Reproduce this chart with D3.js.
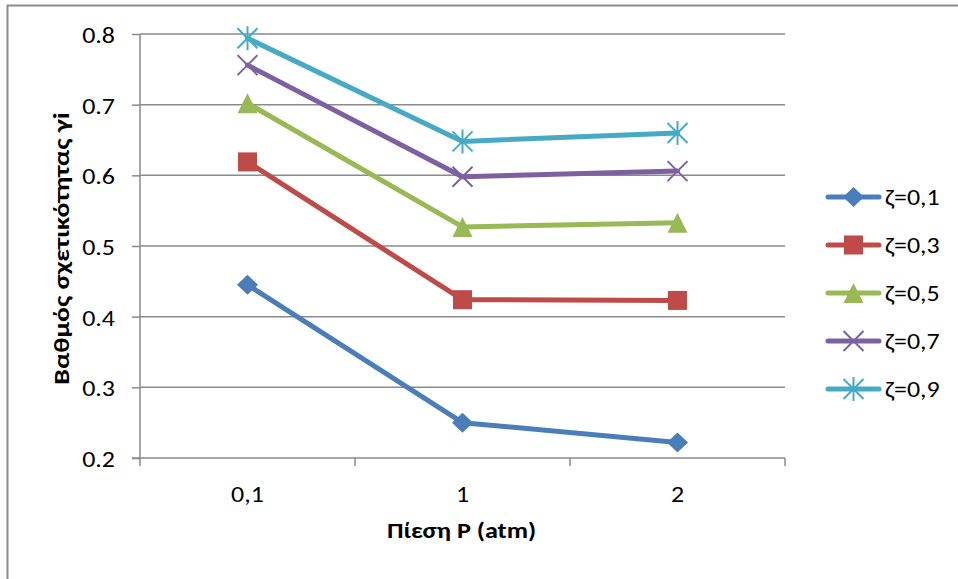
<!DOCTYPE html>
<html><head><meta charset="utf-8">
<script src="https://cdn.jsdelivr.net/npm/d3@7"></script>
<style>body{margin:0;background:#fff}svg{display:block}text{font-family:Carlito,Lato,"Open Sans",sans-serif}</style>
</head><body><svg id="c" width="958" height="579"></svg>
<script>
const categories = ["0,1", "1", "2"];
const seriesNames = ["ζ=0,1", "ζ=0,3", "ζ=0,5", "ζ=0,7", "ζ=0,9"];
const s01 = [0.445, 0.250, 0.222];
const s03 = [0.619, 0.424, 0.423];
const s05 = [0.702, 0.527, 0.533];
const s07 = [0.756, 0.598, 0.606];
const s09 = [0.794, 0.648, 0.660];
const yTicks = [0.2, 0.3, 0.4, 0.5, 0.6, 0.7, 0.8];
const colors = ["#4A7EBB", "#BE4B48", "#98B954", "#7D60A0", "#46AAC5"];
const markers = ["diamond", "square", "triangle", "x", "star"];
const seriesValues = [s01, s03, s05, s07, s09];

const SX = 1.18, FS = 22, FF = "Carlito,Lato,sans-serif";
const svg = d3.select("#c");
const L = 140, R = 785, T = 34, B = 458;
svg.append("path").attr("d", "M7.5,579 V5.5 H958").attr("fill","none").attr("stroke","#8c8c8c").attr("stroke-width",2);

const x = d3.scaleBand().domain(categories).range([L, R]);
const y = d3.scaleLinear().domain([0.2, 0.8]).range([B, T]);

svg.append("g").selectAll("line").data(yTicks.slice(1)).join("line")
  .attr("x1", L).attr("x2", R).attr("y1", d => y(d)).attr("y2", d => y(d))
  .attr("stroke", "#8a8a8a").attr("stroke-width", 1.5);

const ya = svg.append("g").attr("transform", `translate(${L},0)`)
  .call(d3.axisLeft(y).tickValues(yTicks).tickFormat(d3.format(".1f")).tickSize(8));
ya.select(".domain").attr("stroke", "#8a8a8a").attr("stroke-width", 1.5).attr("d", `M0,${T}V${B}`);
ya.selectAll(".tick line").attr("stroke", "#8a8a8a").attr("stroke-width", 1.5);
ya.selectAll("text").attr("font-size", FS).attr("fill", "#000").attr("font-family", FF)
  .attr("x", -25 / SX).attr("dy", null).attr("y", 8.5).attr("transform", `scale(${SX},1)`);

const xa = svg.append("g").attr("transform", `translate(0,${B})`)
  .call(d3.axisBottom(x).tickSize(0));
xa.select(".domain").remove();
xa.selectAll("text").attr("font-size", FS).attr("fill", "#000").attr("font-family", FF)
  .attr("dy", null).attr("y", 44).attr("transform", `scale(${SX},1)`);
const bounds = [L].concat(categories.map(c => x(c) + x.bandwidth()));
svg.append("line").attr("x1", L - 8).attr("x2", R).attr("y1", B).attr("y2", B).attr("stroke", "#8a8a8a").attr("stroke-width", 1.5);
svg.append("g").selectAll("line").data(bounds).join("line")
  .attr("x1", d => d).attr("x2", d => d).attr("y1", B).attr("y2", B + 8)
  .attr("stroke", "#8a8a8a").attr("stroke-width", 1.5);

svg.append("text").attr("transform", "translate(461.5,537.5) scale(1.19,1)").attr("text-anchor", "middle")
  .attr("font-size", 22).attr("font-weight", "bold").text("Πίεση P (atm)");
svg.append("text").attr("transform", "translate(68.5,248.5) rotate(-90) scale(1.21,1)").attr("text-anchor", "middle")
  .attr("font-size", 23).attr("font-weight", "bold").text("Βαθμός σχετικότητας γi");

function drawMarker(g, type, cx, cy, color) {
  if (type === "diamond") {
    g.append("path").attr("d", `M${cx},${cy-10}L${cx+10.5},${cy}L${cx},${cy+10}L${cx-10.5},${cy}Z`).attr("fill", color);
  } else if (type === "square") {
    g.append("rect").attr("x", cx-9.5).attr("y", cy-9.5).attr("width", 19).attr("height", 19).attr("fill", color);
  } else if (type === "triangle") {
    g.append("path").attr("d", `M${cx},${cy-10}L${cx+10},${cy+10}L${cx-10},${cy+10}Z`).attr("fill", color);
  } else if (type === "x") {
    g.append("path").attr("d", `M${cx-10},${cy-10}L${cx+10},${cy+10}M${cx-10},${cy+10}L${cx+10},${cy-10}`).attr("stroke", color).attr("stroke-width", 2);
  } else {
    g.append("path").attr("d", `M${cx-10},${cy-10}L${cx+10},${cy+10}M${cx-10},${cy+10}L${cx+10},${cy-10}M${cx},${cy-12}L${cx},${cy+12}`).attr("stroke", color).attr("stroke-width", 2);
  }
}

const line = d3.line().x((d, i) => x(categories[i]) + x.bandwidth() / 2).y(d => y(d));
seriesValues.forEach((vals, si) => {
  const g = svg.append("g");
  g.append("path").datum(vals).attr("d", line).attr("fill", "none")
    .attr("stroke", colors[si]).attr("stroke-width", 5).attr("stroke-linejoin", "round").attr("stroke-linecap", "round");
  vals.forEach((v, i) => drawMarker(g, markers[si], x(categories[i]) + x.bandwidth() / 2, y(v), colors[si]));
});

const lg = svg.append("g");
seriesNames.forEach((name, i) => {
  const cy = 197 + i * 48;
  const c = colors[i];
  lg.append("line").attr("x1", 828).attr("x2", 879).attr("y1", cy).attr("y2", cy).attr("stroke", c).attr("stroke-width", 5).attr("stroke-linecap", "round");
  drawMarker(lg, markers[i], 853.5, cy, c);
  lg.append("text").attr("transform", `translate(885,${cy + 7.5}) scale(${SX},1)`).attr("font-size", FS).text(name);
});
</script></body></html>
